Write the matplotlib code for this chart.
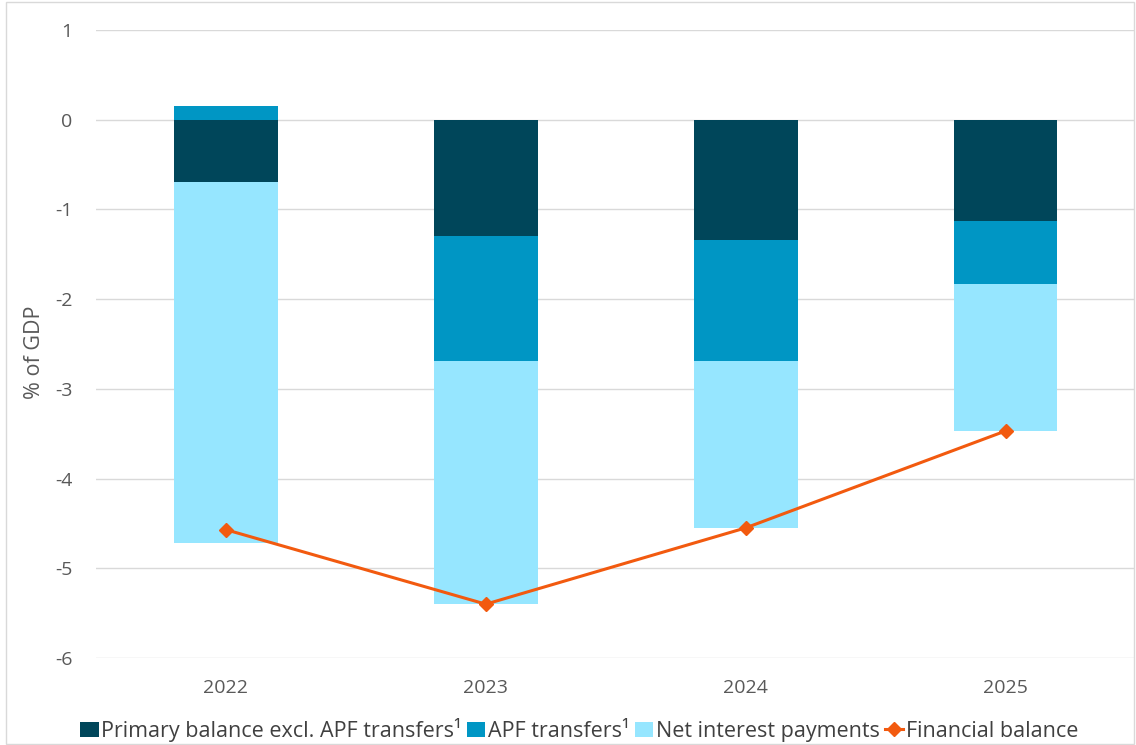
import matplotlib
matplotlib.use("Agg")
import matplotlib.pyplot as plt
import numpy as np

plt.rcParams["axes.unicode_minus"] = False

years = ["2022", "2023", "2024", "2025"]
primary_balance = [-0.70, -1.30, -1.34, -1.13]
apf_transfers = [0.15, -1.39, -1.35, -0.70]
net_interest = [-4.02, -2.71, -1.86, -1.64]
financial_balance = [-4.57, -5.40, -4.55, -3.47]

c_primary = "#00465A"
c_apf = "#0096C4"
c_net = "#96E6FF"
c_fb = "#F25A0F"

fig = plt.figure(figsize=(11.36, 7.45), dpi=100)
ax = fig.add_axes([0.0845, 0.1168, 0.915, 0.843])

x = np.arange(len(years))
w = 0.4
pb = np.array(primary_balance)
apf = np.array(apf_transfers)
ni = np.array(net_interest)

neg_base = np.zeros(len(x))
pos_base = np.zeros(len(x))
handles = []
for vals, col, lab in [(pb, c_primary, "Primary balance excl. APF transfers¹"),
                       (apf, c_apf, "APF transfers¹"),
                       (ni, c_net, "Net interest payments")]:
    bottoms = np.where(vals < 0, neg_base, pos_base)
    h = ax.bar(x, vals, w, bottom=bottoms, color=col, label=lab, zorder=2)
    handles.append(h)
    neg_base = neg_base + np.where(vals < 0, vals, 0)
    pos_base = pos_base + np.where(vals >= 0, vals, 0)

ln, = ax.plot(x, financial_balance, color=c_fb, lw=2.2, marker="D", ms=7,
              label="Financial balance", zorder=3)
handles.append(ln)

ax.set_xlim(-0.5, 3.5)
ax.set_ylim(-6, 1)
ax.set_yticks(np.arange(-6, 2, 1))
ax.set_xticks(x)
ax.set_xticklabels(years)
ax.grid(axis="y", color="#D9D9D9", lw=1, zorder=0)
for s in ax.spines.values():
    s.set_visible(False)
ax.tick_params(axis="both", length=0, labelsize=14, colors="#595959", labelfontfamily="Open Sans")
ax.tick_params(axis="x", pad=15)
ax.tick_params(axis="y", pad=17)
ax.set_ylabel("% of GDP", fontsize=15.5, color="#595959", family="Open Sans")
ax.yaxis.set_label_coords(-0.049, 0.487)

leg = fig.legend(handles=handles, loc="lower center", bbox_to_anchor=(0.51, -0.022), ncol=4,
                 frameon=False, handlelength=0.85, handleheight=0.75,
                 handletextpad=0.12, columnspacing=0.25,
                 prop={"family": "Open Sans", "size": 15.5})
for t in leg.get_texts():
    t.set_color("#404040")

fig.patches.append(matplotlib.patches.Rectangle((0.005, 0.002), 0.993, 0.995, transform=fig.transFigure,
                                                fill=False, edgecolor="#D9D9D9", lw=1))
fig.savefig("out.png", dpi=100)
